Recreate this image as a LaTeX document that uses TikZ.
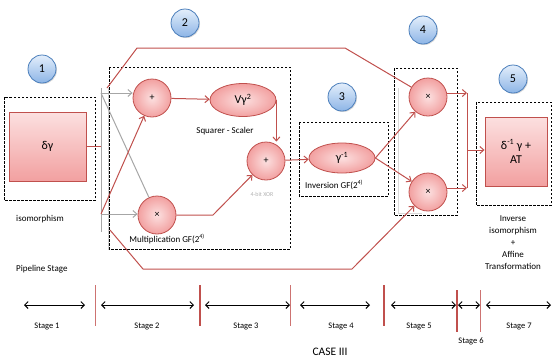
\documentclass[tikz,border=0pt]{standalone}
\usepackage{fontspec}
\setmainfont{Carlito}
\usetikzlibrary{arrows.meta,shadows,shapes.geometric}
\definecolor{lnred}{HTML}{C0504D}
\definecolor{pinkL}{HTML}{FCE0E0}
\definecolor{pinkD}{HTML}{F2A0A0}
\definecolor{blueL}{HTML}{E3EEFB}
\definecolor{blueD}{HTML}{8DB5E6}
\definecolor{blueB}{HTML}{4A7EBB}
\begin{document}
\begin{tikzpicture}[x=1pt,y=-1pt,
  txt/.style={font=\fontsize{9}{10.5}\selectfont, inner sep=0pt},
  stg/.style={font=\fontsize{8.5}{10}\selectfont, inner sep=0pt},
  badge/.style={circle, draw=blueB, line width=0.8pt, top color=blueL, bottom color=blueD,
     minimum size=28pt, inner sep=0pt, font=\fontsize{12}{13}\selectfont,
     drop shadow={shadow xshift=1pt, shadow yshift=-1pt, opacity=0.3}},
  opnode/.style={circle, draw=lnred, line width=0.8pt, inner color=pinkL, outer color=pinkD,
     minimum size=38pt, inner sep=0pt, font=\fontsize{10}{11}\selectfont},
  ellnode/.style={ellipse, draw=lnred, line width=0.8pt, inner color=pinkL, outer color=pinkD,
     inner sep=0pt, font=\fontsize{12}{13}\selectfont},
  boxnode/.style={rectangle, draw=lnred, line width=0.9pt, top color=pinkL, bottom color=pinkD,
     inner sep=0pt, align=center, font=\fontsize{12}{14}\selectfont},
  dbox/.style={draw=black, line width=0.8pt, dash pattern=on 2.5pt off 1.5pt},
  conn/.style={draw=lnred, line width=1pt},
  arr/.style={conn, -{Straight Barb[length=4pt,width=7pt]}},
  gline/.style={draw=gray!70, line width=1pt},
  garr/.style={gline, -{Straight Barb[length=4pt,width=7pt]}},
  stagearr/.style={draw=black, line width=0.9pt, {Straight Barb[length=3.5pt,width=7pt]}-{Straight Barb[length=3.5pt,width=7pt]}},
  divthin/.style={draw=lnred!80, line width=0.8pt},
  divthick/.style={draw=lnred, line width=1.5pt}
]
\useasboundingbox (0,0) rectangle (553,360);

% badges
\node[badge] (b1) at (42,69) {1};
\node[badge] (b2) at (185,23) {2};
\node[badge] (b3) at (342,97) {3};
\node[badge] (b4) at (423,30) {4};
\node[badge] (b5) at (513,79) {5};

% dashed frames
\draw[dbox] (4,97) rectangle (95,200);
\draw[dbox] (109,67) rectangle (290,249);
\draw[dbox] (299,122) rectangle (388,196);
\draw[dbox] (394,68) rectangle (457,215);
\draw[dbox] (476,102) rectangle (551,205);

% gray helper lines
\draw[gline, draw=gray!35] (108,88) -- (108,250);
\draw[gline, draw=gray!30] (398,88) -- (398,213) -- (422,213);

% nodes
\node[boxnode, minimum width=77pt, minimum height=69pt] (dg) at (47.5,146.5) {δγ};
\node[opnode] (p1) at (152,98) {+};
\node[ellnode, minimum width=66pt, minimum height=33pt] (v) at (243,100) {Vγ\textsuperscript{2}};
\node[opnode] (p2) at (266,161) {+};
\node[opnode] (t1) at (157,215) {×};
\node[ellnode, minimum width=66pt, minimum height=30pt] (inv) at (342,158) {γ\textsuperscript{-1}};
\node[opnode] (t2) at (428,97) {×};
\node[opnode] (t3) at (428,192) {×};
\node[boxnode, minimum width=62pt, minimum height=69pt] (at) at (516,151.5) {δ\textsuperscript{-1} γ +\\AT};

% texts
\node[txt, anchor=west] (tiso) at (16,219) {isomorphism};
\node[txt, anchor=west] (tpipe) at (16,269) {Pipeline Stage};
\node[txt] (tsq) at (225,131) {Squarer - Scaler};
\node[txt, text=gray!60, font=\fontsize{6}{7}\selectfont] (txor) at (262,194) {4-bit XOR};
\node[txt, anchor=east] (tmul) at (205,239) {Multiplication GF(2\textsuperscript{4)}};
\node[txt, anchor=west] (tinv) at (305,185) {Inversion GF(2\textsuperscript{4)}};
\node[txt, align=center, font=\fontsize{9}{12}\selectfont] (tinvaff) at (513,243) {Inverse\\isomorphism\\+\\Affine\\Transformation};

% connection points
\coordinate (split) at (101,146);
\coordinate (bt) at (101,88);
\coordinate (bb) at (101,232);
\coordinate (ta) at (101,93);
\coordinate (tb) at (101,214);
\coordinate (up1) at (107,88);
\coordinate (up2) at (137,48);
\coordinate (up3) at (345,48);
\coordinate (dn1) at (110,230);
\coordinate (dn2) at (143,269);
\coordinate (dn3) at (352,269);
\coordinate (mj) at (213,215);
\coordinate (r1) at (467,93);
\coordinate (r2) at (467,188);
\coordinate (rm) at (467,150);

% connectors
\draw[conn] (dg.east |- split) -- (split);
\draw[gline] (bt) -- (bb);
\draw[garr] (ta) -- (p1.west |- ta);
\draw[garr] (tb) -- (t1.west |- tb);
\draw[gline] (ta) -- (t1);
\draw[arr] (tb) -- (p1);
\draw[conn] (up1) -- (up2) -- (up3) -- (t2);
\draw[arr] (dn1) -- (dn2) -- (dn3) -- (t3);
\draw[arr] (p1) -- (v);
\draw[arr] (v.east) -- (v.east |- p2.north);
\draw[arr] (t1.east) -- (mj) -- (p2);
\draw[arr] (p2) -- (inv);
\draw[arr] (inv.east) -- (t2);
\draw[arr] (inv.east) -- (t3);
\draw[arr] (t2.east |- r1) -- (r1);
\draw[arr] (t3.east |- r2) -- (r2);
\draw[conn] (r1) -- (r2);
\draw[arr] (rm) -- (at.west |- rm);

% stage bar
\coordinate (d1a) at (95,285);  \coordinate (d1b) at (95,326);
\coordinate (d2a) at (200,285); \coordinate (d2b) at (200,326);
\coordinate (d3a) at (290,285); \coordinate (d3b) at (290,326);
\coordinate (d4a) at (384,285); \coordinate (d4b) at (384,326);
\coordinate (d5a) at (457,290); \coordinate (d5b) at (457,332);
\coordinate (d6a) at (480,290); \coordinate (d6b) at (480,332);
\draw[divthin] (d1a) -- (d1b);
\draw[divthick] (d2a) -- (d2b);
\draw[divthin] (d3a) -- (d3b);
\draw[divthick] (d4a) -- (d4b);
\draw[divthick] (d5a) -- (d5b);
\draw[divthin] (d6a) -- (d6b);

\coordinate (s1a) at (24,305);  \coordinate (s1b) at (85,305);
\coordinate (s2a) at (101,305); \coordinate (s2b) at (194,305);
\coordinate (s3a) at (205,305); \coordinate (s3b) at (290,305);
\coordinate (s4a) at (300,305); \coordinate (s4b) at (370,305);
\coordinate (s5a) at (391,305); \coordinate (s5b) at (456,305);
\coordinate (s6a) at (458,305); \coordinate (s6b) at (480,305);
\coordinate (s7a) at (486,305); \coordinate (s7b) at (551,305);
\draw[stagearr] (s1a) -- (s1b);
\draw[stagearr] (s2a) -- (s2b);
\draw[stagearr] (s3a) -- (s3b);
\draw[stagearr] (s4a) -- (s4b);
\draw[stagearr] (s5a) -- (s5b);
\draw[stagearr] (s6a) -- (s6b);
\draw[stagearr] (s7a) -- (s7b);

\node[stg] (st1) at (47,326) {Stage 1};
\node[stg] (st2) at (147,326) {Stage 2};
\node[stg] (st3) at (246,326) {Stage 3};
\node[stg] (st4) at (341,326) {Stage 4};
\node[stg] (st5) at (419,326) {Stage 5};
\node[stg] (st6) at (471,341) {Stage 6};
\node[stg] (st7) at (519,326) {Stage 7};
\node[txt, font=\fontsize{11.5}{12}\selectfont] (case) at (330,352) {CASE III};
\end{tikzpicture}
\end{document}
